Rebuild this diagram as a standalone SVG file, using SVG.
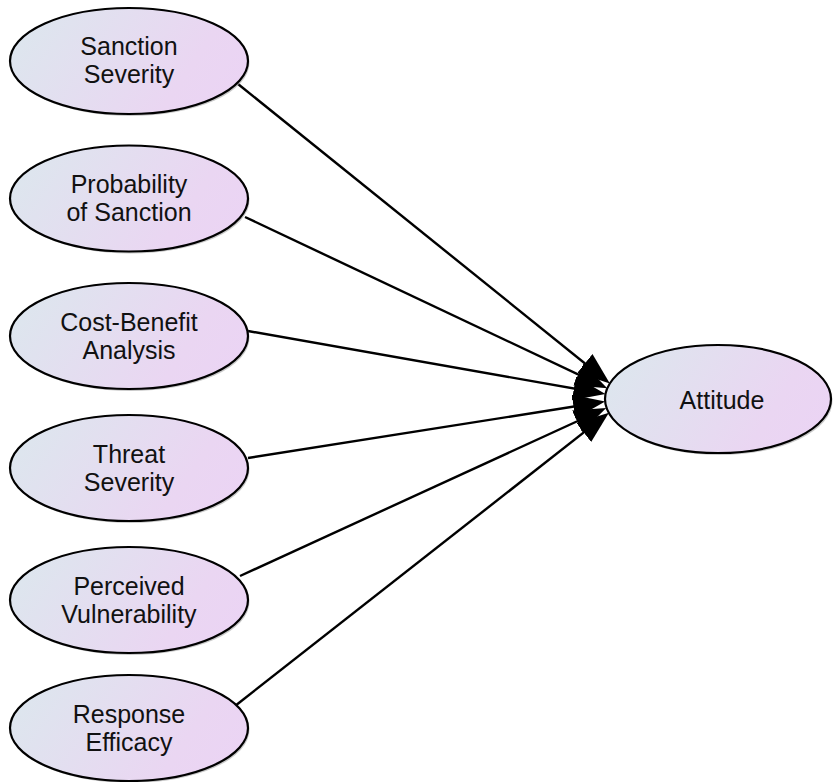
<svg xmlns="http://www.w3.org/2000/svg" width="833" height="782" viewBox="0 0 833 782">
  <defs>
    <linearGradient id="nodeFill" x1="0" y1="0.35" x2="1" y2="0.65">
      <stop offset="0" stop-color="#dde6ee"/>
      <stop offset="0.75" stop-color="#ead6f2"/>
      <stop offset="1" stop-color="#ebd4f4"/>
    </linearGradient>
    <marker id="arrow" markerUnits="userSpaceOnUse" markerWidth="34" markerHeight="26" refX="26" refY="12" orient="auto">
      <path d="M0,0 L32,12 L0,24 z" fill="#000"/>
    </marker>
    <style>
      .shadow { fill: #9a9a9a; opacity: 0.55; }
      .node { fill: url(#nodeFill); stroke: #000; stroke-width: 2.2; }
      .label { font-family: "Liberation Sans", Arial, sans-serif; font-size: 25px; fill: #111; text-anchor: middle; }
      .edge { stroke: #000; stroke-width: 2.4; fill: none; marker-end: url(#arrow); }
    </style>
  </defs>

  <rect width="833" height="782" fill="#fff"/>

  <!-- paths into Attitude -->
  <g id="connectors">
    <line class="edge" x1="238" y1="84" x2="605.2" y2="379.7"/>
    <line class="edge" x1="245" y1="217" x2="601.8" y2="385.6"/>
    <line class="edge" x1="248" y1="331" x2="599.5" y2="393.0"/>
    <line class="edge" x1="248" y1="458" x2="599.2" y2="402.5"/>
    <line class="edge" x1="240" y1="576" x2="600.7" y2="410.5"/>
    <line class="edge" x1="235" y1="706" x2="604.2" y2="416.4"/>
  </g>

  <g id="sanction-severity">
    <ellipse class="shadow" cx="130.5" cy="63" rx="119" ry="53"/>
    <ellipse class="node" cx="129" cy="61" rx="119" ry="53"/>
    <text class="label" x="129" y="55">Sanction</text>
    <text class="label" x="129" y="83">Severity</text>
  </g>

  <g id="probability-of-sanction">
    <ellipse class="shadow" cx="130.5" cy="200.5" rx="119" ry="53"/>
    <ellipse class="node" cx="129" cy="198.5" rx="119" ry="53"/>
    <text class="label" x="129" y="193">Probability</text>
    <text class="label" x="129" y="221">of Sanction</text>
  </g>

  <g id="cost-benefit-analysis">
    <ellipse class="shadow" cx="130.5" cy="338" rx="119" ry="53"/>
    <ellipse class="node" cx="129" cy="336" rx="119" ry="53"/>
    <text class="label" x="129" y="330.5">Cost-Benefit</text>
    <text class="label" x="129" y="358.5">Analysis</text>
  </g>

  <g id="threat-severity">
    <ellipse class="shadow" cx="130.5" cy="470" rx="119" ry="53"/>
    <ellipse class="node" cx="129" cy="468" rx="119" ry="53"/>
    <text class="label" x="129" y="462.5">Threat</text>
    <text class="label" x="129" y="490.5">Severity</text>
  </g>

  <g id="perceived-vulnerability">
    <ellipse class="shadow" cx="130.5" cy="602" rx="119" ry="53"/>
    <ellipse class="node" cx="129" cy="600" rx="119" ry="53"/>
    <text class="label" x="129" y="594.5">Perceived</text>
    <text class="label" x="129" y="622.5">Vulnerability</text>
  </g>

  <g id="response-efficacy">
    <ellipse class="shadow" cx="130.5" cy="730" rx="119" ry="53"/>
    <ellipse class="node" cx="129" cy="728" rx="119" ry="53"/>
    <text class="label" x="129" y="722.5">Response</text>
    <text class="label" x="129" y="750.5">Efficacy</text>
  </g>

  <g id="attitude">
    <ellipse class="shadow" cx="719.5" cy="401" rx="113" ry="54"/>
    <ellipse class="node" cx="718" cy="399" rx="113" ry="54"/>
    <text class="label" x="722" y="409">Attitude</text>
  </g>
</svg>
